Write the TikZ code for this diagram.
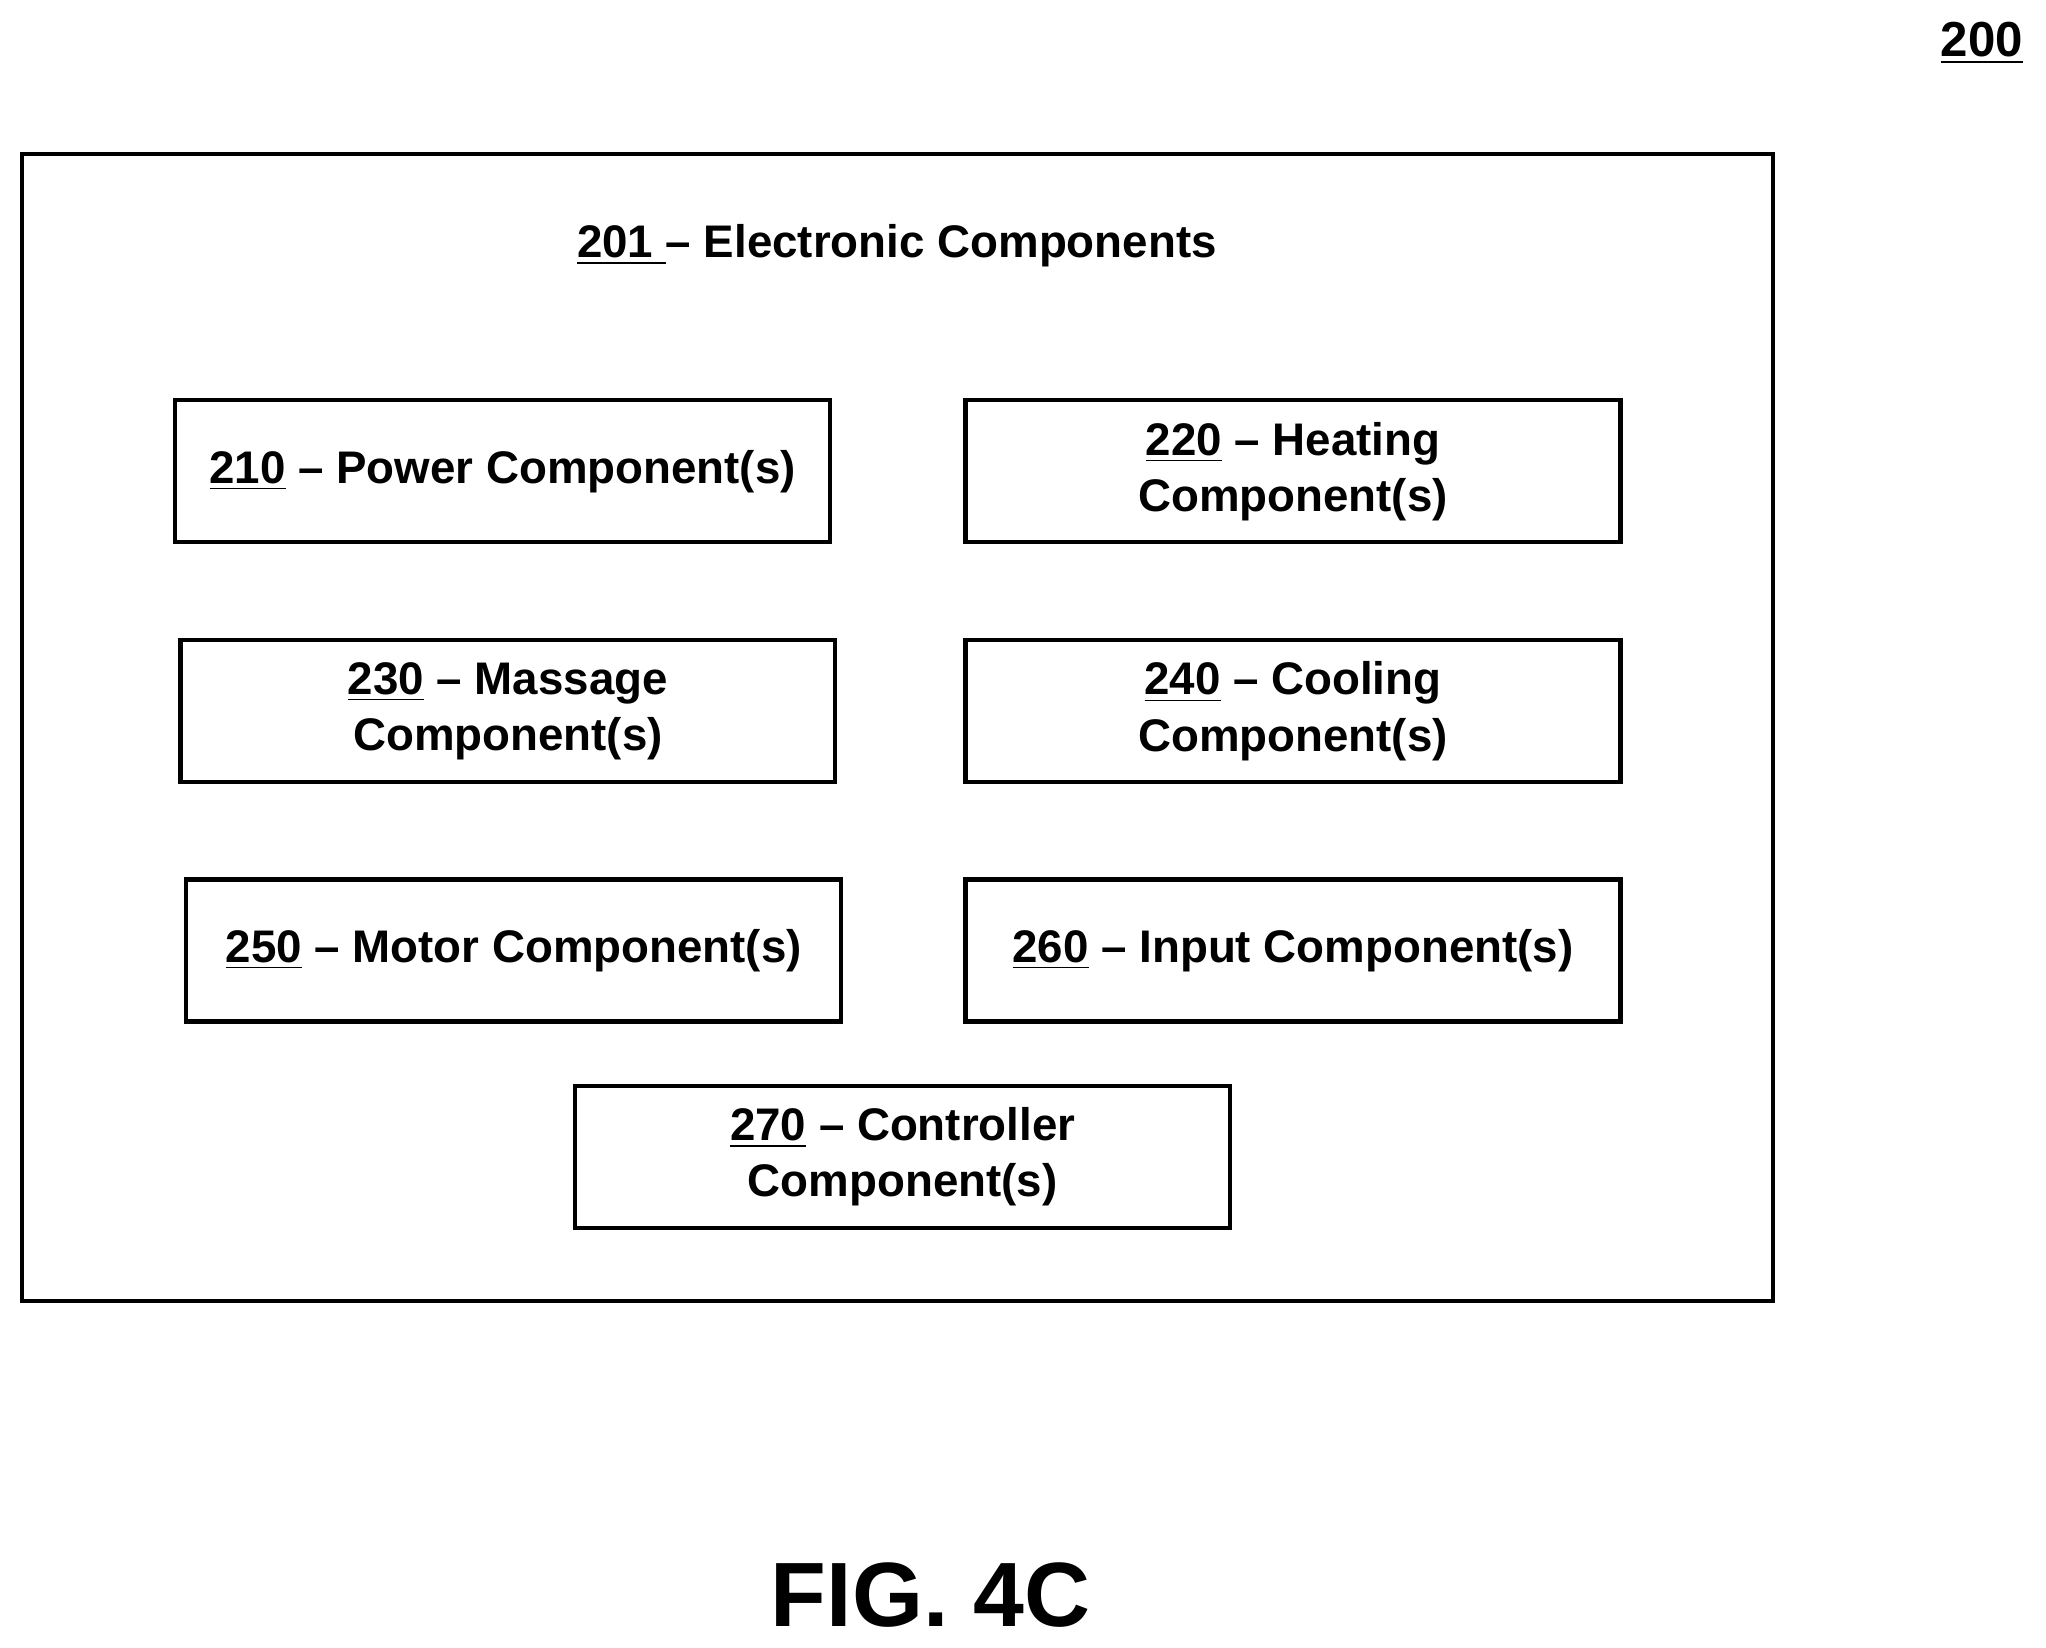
\documentclass[tikz,border=0pt]{standalone}
\usepackage{fontspec}
\setmainfont{Liberation Sans}
\usetikzlibrary{positioning}
\tikzset{
    comp/.style={draw, line width=1.2pt, minimum width=6.55cm, minimum height=1.42cm,
        align=center, font=\bfseries\fontsize{13}{16}\selectfont, inner sep=2pt},
    label/.style={font=\bfseries\fontsize{13}{16}\selectfont}
}
\begin{document}
\begin{tikzpicture}[x=0.013073cm, y=-0.013073cm]
        % Page frame
        \useasboundingbox (0, 0) rectangle (1565, 1260);
        % Outer box
        \draw [line width=1.2pt] (17, 118) rectangle (1356, 995);
        \node [label, font=\bfseries\fontsize{14}{16}\selectfont] (ref) at (1516, 33) {\underline{200}};
        \node [label] (title) at (686, 188) {\underline{201\ }-- Electronic Components};

        % Component boxes
        \node [comp] (power) at (384.5, 360.5) {\underline{210} -- Power Component(s)};
        \node [comp] (heat) at (989, 360.5) {\underline{220} -- Heating\\Component(s)};
        \node [comp] (massage) at (388.5, 544) {\underline{230} -- Massage\\Component(s)};
        \node [comp] (cool) at (989, 544) {\underline{240} -- Cooling\\Component(s)};
        \node [comp] (motor) at (393, 727) {\underline{250} -- Motor Component(s)};
        \node [comp] (input) at (989, 727) {\underline{260} -- Input Component(s)};
        \node [comp] (ctrl) at (690.5, 885) {\underline{270} -- Controller\\Component(s)};

        \node [font=\bfseries\fontsize{26}{30}\selectfont] (fig) at (712, 1220) {FIG. 4C};
\end{tikzpicture}
\end{document}
